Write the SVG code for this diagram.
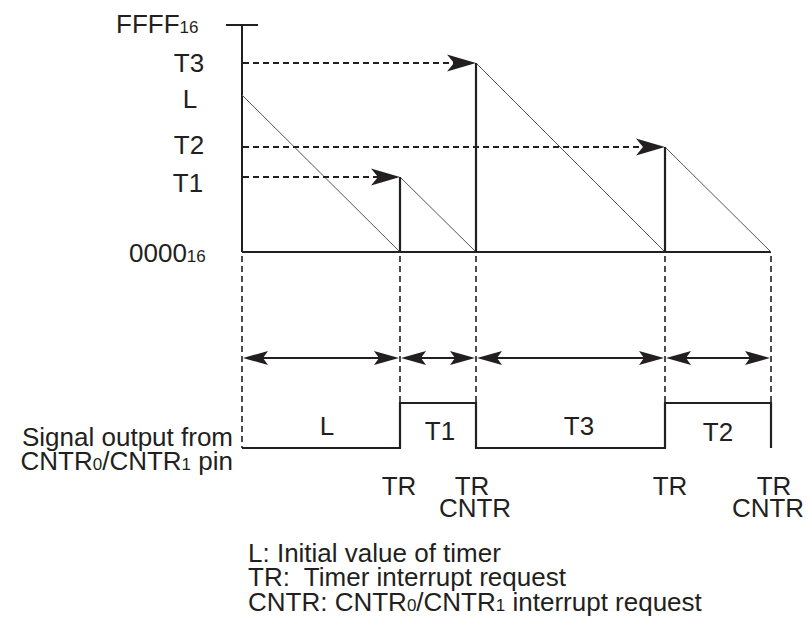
<svg xmlns="http://www.w3.org/2000/svg" xmlns:xlink="http://www.w3.org/1999/xlink" width="808" height="619" viewBox="0 0 808 619">
<style>
text{font-family:"Liberation Sans",Arial,Helvetica,sans-serif;font-size:26px;fill:#231f20}
.sub{font-size:17px}
.mid{text-anchor:middle}
.ax{stroke:#231f20;stroke-width:2;fill:none}
.saw{stroke:#555;stroke-width:1;fill:none}
.dh{stroke:#231f20;stroke-width:2;stroke-dasharray:6 4;fill:none}
.dv{stroke:#231f20;stroke-width:1.6;stroke-dasharray:6 4;fill:none}
.sol{stroke:#231f20;stroke-width:2.2;fill:none}
.ah{fill:#231f20}
</style>
<defs>
<path id="ahBig" d="M0,0 L-29,-8.5 L-22,0 L-29,8.5 Z"/>
<path id="ahSm" d="M0,0 L-25,-7 L-20,0 L-25,7 Z"/>
</defs>
<g id="axis">
<line class="ax" x1="242" y1="25" x2="242" y2="252"/>
<line class="ax" x1="226" y1="25" x2="258" y2="25"/>
<line class="ax" x1="242" y1="252" x2="771" y2="252"/>
<text x="116" y="33">FFFF<tspan class="sub">16</tspan></text>
<text class="mid" x="189" y="72">T3</text>
<text class="mid" x="190" y="108">L</text>
<text class="mid" x="189" y="154">T2</text>
<text class="mid" x="188" y="192">T1</text>
<text x="129" y="262">0000<tspan class="sub">16</tspan></text>
</g>
<g id="sawtooth">
<line class="saw" x1="242" y1="95" x2="400" y2="252"/>
<line class="saw" x1="400" y1="177" x2="476" y2="252"/>
<line class="saw" x1="476" y1="63" x2="665" y2="252"/>
<line class="saw" x1="665" y1="147" x2="771" y2="252"/>
<line class="sol" x1="400" y1="177" x2="400" y2="252"/>
<line class="sol" x1="476" y1="63" x2="476" y2="252"/>
<line class="sol" x1="665" y1="147" x2="665" y2="252"/>
</g>
<g id="connectors">
<line class="dh" x1="243" y1="63" x2="460" y2="63"/>
<use xlink:href="#ahBig" class="ah" transform="translate(476,63)"/>
<line class="dh" x1="243" y1="147" x2="650" y2="147"/>
<use xlink:href="#ahBig" class="ah" transform="translate(665,147)"/>
<line class="dh" x1="243" y1="177" x2="385" y2="177"/>
<use xlink:href="#ahBig" class="ah" transform="translate(400,177)"/>
<line class="dv" x1="242" y1="256" x2="242" y2="448"/>
<line class="dv" x1="400" y1="256" x2="400" y2="403"/>
<line class="dv" x1="476" y1="256" x2="476" y2="403"/>
<line class="dv" x1="665" y1="256" x2="665" y2="403"/>
<line class="dv" x1="771" y1="256" x2="771" y2="403"/>
<line class="sol" x1="252" y1="358" x2="390" y2="358"/>
<use xlink:href="#ahSm" class="ah" transform="translate(243,358) rotate(180)"/>
<use xlink:href="#ahSm" class="ah" transform="translate(399,358)"/>
<line class="sol" x1="411" y1="358" x2="466" y2="358"/>
<use xlink:href="#ahSm" class="ah" transform="translate(401,358) rotate(180)"/>
<use xlink:href="#ahSm" class="ah" transform="translate(475,358)"/>
<line class="sol" x1="487" y1="358" x2="655" y2="358"/>
<use xlink:href="#ahSm" class="ah" transform="translate(477,358) rotate(180)"/>
<use xlink:href="#ahSm" class="ah" transform="translate(664,358)"/>
<line class="sol" x1="676" y1="358" x2="760" y2="358"/>
<use xlink:href="#ahSm" class="ah" transform="translate(666,358) rotate(180)"/>
<use xlink:href="#ahSm" class="ah" transform="translate(770,358)"/>
</g>
<g id="waveform">
<path class="sol" d="M242,448 H400 V403 H476 V448 H665 V403 H771 V448"/>
<text class="mid" x="327" y="435">L</text>
<text class="mid" x="440" y="440">T1</text>
<text class="mid" x="579" y="435">T3</text>
<text class="mid" x="718" y="441">T2</text>
<text x="233" y="446" text-anchor="end">Signal output from</text>
<text x="233" y="470" text-anchor="end">CNTR<tspan class="sub">0</tspan>/CNTR<tspan class="sub">1</tspan> pin</text>
</g>
<g id="events">
<text class="mid" x="399" y="495">TR</text>
<text class="mid" x="472" y="495">TR</text>
<text class="mid" x="475" y="517">CNTR</text>
<text class="mid" x="670" y="495">TR</text>
<text class="mid" x="774" y="495">TR</text>
<text class="mid" x="768" y="517">CNTR</text>
</g>
<g id="legend">
<text x="248" y="562">L: Initial value of timer</text>
<text x="248" y="586">TR:&#160; Timer interrupt request</text>
<text x="248" y="611">CNTR: CNTR<tspan class="sub">0</tspan>/CNTR<tspan class="sub">1</tspan> interrupt request</text>
</g>
</svg>
